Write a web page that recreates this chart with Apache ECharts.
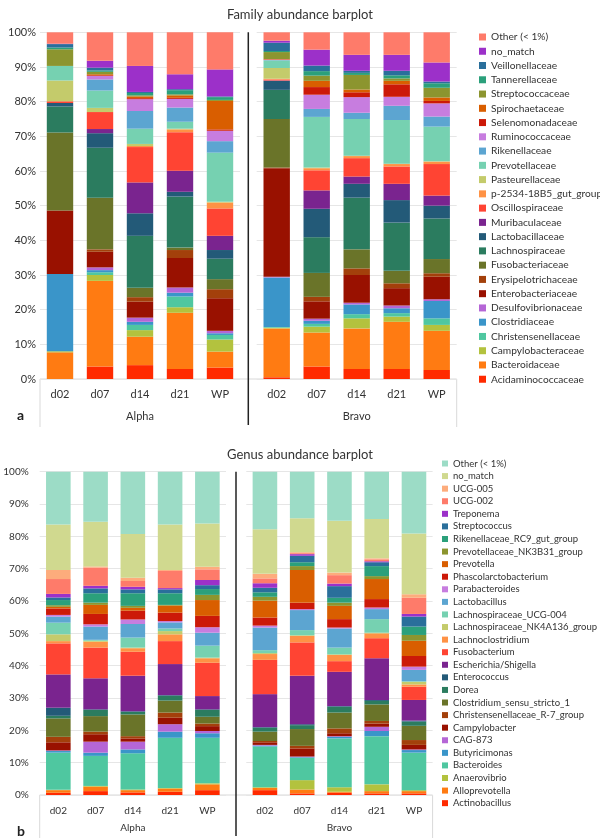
<!DOCTYPE html>
<html>
<head>
<meta charset="utf-8">
<script src="https://cdn.jsdelivr.net/npm/echarts@6/dist/echarts.min.js"></script>
<style>
html, body { margin: 0; padding: 0; background: #fff; }
#chart { width: 600px; height: 838px; }
</style>
</head>
<body>
<div id="chart"></div>
<script>
// sample days and site groups
const samples = ["d02", "d07", "d14", "d21", "WP"];
const groups = ["Alpha", "Bravo"];

// family level, stacked bottom -> top
const familyNames = [
  "Acidaminococcaceae", "Bacteroidaceae", "Campylobacteraceae", "Christensenellaceae",
  "Clostridiaceae", "Desulfovibrionaceae", "Enterobacteriaceae", "Erysipelotrichaceae",
  "Fusobacteriaceae", "Lachnospiraceae", "Lactobacillaceae", "Muribaculaceae",
  "Oscillospiraceae", "p-2534-18B5_gut_group", "Pasteurellaceae", "Prevotellaceae",
  "Rikenellaceae", "Ruminococcaceae", "Selenomonadaceae", "Spirochaetaceae",
  "Streptococcaceae", "Tannerellaceae", "Veillonellaceae", "no_match", "Other (< 1%)"
];
const familyColors = [
  "#ff2a00", "#ff7b12", "#b3c23e", "#4fc7a0", "#3a95c9", "#b566d6", "#991100", "#a3400b",
  "#6a7429", "#2b7c5f", "#235a78", "#7a248f", "#ff4433", "#ff9245", "#c4cb6b", "#76d1b1",
  "#5ca5d1", "#c77ddf", "#cc1908", "#d95e00", "#8c952f", "#2ba07b", "#2a6f9b", "#9c30c9", "#fe7b6a"
];
// rows follow familyNames, columns follow samples (%)
const familyAlpha = [
  [0, 3.6, 4.0, 2.9, 3.3],
  [7.7, 24.7, 8.2, 16.2, 4.6],
  [0.3, 1.7, 1.9, 1.6, 3.5],
  [0, 0.8, 1.5, 3.1, 1.3],
  [22.3, 0.6, 0.9, 1.1, 0.5],
  [0, 0.8, 1.2, 1.5, 0.7],
  [18.3, 4.5, 4.6, 8.5, 9.4],
  [0, 0.7, 1.3, 2.3, 2.6],
  [22.5, 14.9, 2.7, 0.7, 2.9],
  [7.5, 14.4, 15.0, 14.7, 5.9],
  [1.0, 4.2, 6.5, 1.4, 2.5],
  [0, 1.2, 8.9, 6.1, 4.1],
  [0.5, 4.9, 10.2, 11.1, 7.9],
  [0, 0, 0.3, 0.8, 1.7],
  [6.0, 1.2, 0.6, 0.2, 0.2],
  [4.2, 5.0, 4.4, 2.0, 14.2],
  [0, 3.2, 5.1, 4.1, 3.3],
  [0, 1.0, 3.4, 2.5, 3.0],
  [0, 0.2, 0.3, 0.3, 0.4],
  [0, 0.3, 0.5, 0.7, 8.2],
  [4.8, 0.7, 0.3, 0.3, 0.3],
  [0.5, 0.4, 0.7, 1.2, 0.8],
  [1.0, 0.8, 0.3, 0.3, 0.2],
  [0.1, 2.0, 7.5, 4.3, 7.8],
  [3.3, 8.2, 9.7, 12.1, 10.7]
];
const familyBravo = [
  [0.5, 3.6, 2.9, 2.9, 2.6],
  [14.1, 9.8, 11.7, 13.6, 11.3],
  [0.2, 1.7, 2.9, 1.5, 1.7],
  [0.2, 0.8, 1.2, 1.0, 1.9],
  [14.3, 0.9, 2.8, 1.4, 5.0],
  [0.2, 0.6, 0.5, 0.8, 0.5],
  [31.3, 5.0, 8.0, 5.0, 6.5],
  [0.2, 1.3, 1.9, 1.4, 1.0],
  [14.0, 6.9, 5.5, 3.6, 4.1],
  [8.4, 10.3, 14.9, 13.9, 11.7],
  [2.6, 8.2, 4.0, 6.5, 3.7],
  [0.1, 5.3, 2.1, 4.7, 2.9],
  [0.3, 5.8, 5.3, 5.0, 9.1],
  [0.2, 0.6, 0.6, 0.7, 0.7],
  [3.1, 0.2, 0.1, 0.1, 0.1],
  [2.2, 14.6, 10.6, 12.6, 10.0],
  [0.1, 2.3, 1.8, 4.1, 2.9],
  [0.1, 4.1, 4.5, 2.6, 3.8],
  [0.1, 2.2, 1.4, 3.6, 0.7],
  [0.1, 1.8, 0.8, 1.0, 1.0],
  [2.0, 1.5, 4.2, 0.7, 2.8],
  [0.3, 1.3, 0.6, 0.9, 1.3],
  [2.4, 1.6, 0.6, 1.3, 0.5],
  [0.6, 4.6, 4.6, 4.6, 5.5],
  [2.4, 5.0, 6.5, 6.5, 8.7]
];

// genus level, stacked bottom -> top
const genusNames = [
  "Actinobacillus", "Alloprevotella", "Anaerovibrio", "Bacteroides", "Butyricimonas",
  "CAG-873", "Campylobacter", "Christensenellaceae_R-7_group", "Clostridium_sensu_stricto_1",
  "Dorea", "Enterococcus", "Escherichia/Shigella", "Fusobacterium", "Lachnoclostridium",
  "Lachnospiraceae_NK4A136_group", "Lachnospiraceae_UCG-004", "Lactobacillus", "Parabacteroides",
  "Phascolarctobacterium", "Prevotella", "Prevotellaceae_NK3B31_group", "Rikenellaceae_RC9_gut_group",
  "Streptococcus", "Treponema", "UCG-002", "UCG-005", "no_match", "Other (< 1%)"
];
const genusColors = [
  "#ff2a00", "#ff7b12", "#b3c23e", "#4fc7a0", "#3a95c9", "#b566d6", "#991100", "#a3400b",
  "#6a7429", "#2b7c5f", "#235a78", "#7a248f", "#ff4433", "#ff9245", "#c4cb6b", "#76d1b1",
  "#5ca5d1", "#c77ddf", "#cc1908", "#d95e00", "#8c952f", "#2ba07b", "#2a6f9b", "#9c30c9",
  "#fe7b6a", "#fdac7c", "#d0d98f", "#9cdcc6"
];
const genusAlpha = [
  [0.7, 1.2, 0.8, 1.0, 1.5],
  [0.8, 1.4, 0.7, 1.0, 1.8],
  [0.1, 0.2, 0.2, 0.2, 0.3],
  [11.5, 9.3, 11.2, 15.5, 14.1],
  [0.5, 1.0, 1.2, 1.9, 1.4],
  [0.2, 3.4, 2.4, 2.3, 0.7],
  [2.5, 2.3, 1.0, 2.0, 1.5],
  [1.7, 0.8, 0.7, 1.6, 0.8],
  [5.7, 4.8, 6.7, 3.7, 2.1],
  [0.8, 1.9, 0.8, 1.5, 2.1],
  [2.5, 0.2, 0.2, 0.2, 0.2],
  [10.3, 9.6, 11.0, 9.6, 4.1],
  [9.6, 9.5, 7.4, 7.1, 10.3],
  [0.7, 1.8, 1.1, 2.1, 1.4],
  [2.1, 0.3, 0.2, 1.0, 0.2],
  [3.6, 0.3, 3.1, 0.8, 3.7],
  [1.9, 4.1, 4.2, 1.9, 4.0],
  [0.5, 0.7, 1.4, 0.4, 1.7],
  [2.0, 3.2, 2.7, 2.6, 3.5],
  [0.5, 2.8, 0.9, 2.2, 4.9],
  [0.5, 0.7, 0.6, 0.2, 1.6],
  [1.6, 2.9, 3.9, 3.6, 1.8],
  [0.8, 1.5, 1.2, 1.2, 1.2],
  [1.1, 0.8, 0.8, 0.4, 1.6],
  [4.6, 5.6, 1.8, 5.3, 3.3],
  [2.8, 0.4, 1.0, 0.3, 0.8],
  [14.1, 13.8, 13.5, 14.1, 13.4],
  [16.3, 15.5, 19.3, 16.3, 16.0]
];
const genusBravo = [
  [1.5, 0.5, 0.7, 0.5, 0.5],
  [0.7, 1.2, 0.3, 0.7, 0.7],
  [0.2, 2.9, 1.4, 2.1, 0.3],
  [12.6, 6.9, 15.1, 14.9, 11.6],
  [0.3, 0.2, 0.5, 1.6, 0.8],
  [0.2, 0.2, 0.2, 1.3, 0.2],
  [0.8, 2.5, 0.9, 1.0, 1.4],
  [0.4, 0.8, 1.5, 0.8, 1.5],
  [2.9, 5.2, 4.9, 5.1, 4.4],
  [1.2, 1.2, 1.8, 1.1, 1.3],
  [0.2, 0.3, 0.2, 0.3, 0.3],
  [10.2, 15.0, 10.6, 12.9, 6.4],
  [10.6, 10.3, 3.3, 6.2, 4.1],
  [1.8, 2.0, 1.9, 1.5, 0.7],
  [0.3, 0.2, 0.2, 0.2, 0.8],
  [0.9, 1.6, 2.1, 4.2, 0.2],
  [7.0, 6.2, 5.9, 3.1, 3.5],
  [0.6, 0.3, 0.3, 0.5, 1.0],
  [2.5, 2.0, 2.6, 2.6, 3.3],
  [5.2, 10.1, 4.1, 6.2, 4.7],
  [1.2, 1.2, 1.0, 0.9, 1.8],
  [1.4, 1.2, 1.5, 3.1, 2.6],
  [1.4, 2.0, 3.6, 1.2, 3.1],
  [1.4, 0.5, 0.8, 0.3, 0.8],
  [1.5, 0.3, 2.6, 0.6, 5.0],
  [1.4, 0.3, 0.8, 0.3, 1.1],
  [13.8, 10.5, 16.0, 12.2, 18.8],
  [17.8, 14.4, 15.2, 14.6, 19.1]
];

const FONT = "Lato, 'Noto Sans', sans-serif";
const TEXT = "#333";

const panels = [
  {
    title: "Family abundance barplot", tag: "a",
    names: familyNames, colors: familyColors, values: [familyAlpha, familyBravo],
    top: 32.3, bottom: 379, lefts: [40, 256.7], width: 200, sep: 248.3, right: 456.7,
    frameBottom: 427, fs: 11, labelMargin: 10, nameGap: 32, yMargin: 4,
    titleTop: 3, tagTop: 403,
    legend: { left: 474, top: 26, icon: 7, lh: 12, gap: 2.26, fs: 10.2 }
  },
  {
    title: "Genus abundance barplot", tag: "b",
    names: genusNames, colors: genusColors, values: [genusAlpha, genusBravo],
    top: 471.7, bottom: 795, lefts: [39.7, 246.3], width: 186.3, sep: 236, right: 432.6,
    frameBottom: 838, fs: 10, labelMargin: 11, nameGap: 28, yMargin: 11,
    titleTop: 443, tagTop: 819,
    legend: { left: 437, top: 453, icon: 6, lh: 11, gap: 1.58, fs: 9.5 }
  }
];

const grid = [], xAxis = [], yAxis = [], series = [], legend = [], title = [], graphic = [];

panels.forEach((p) => {
  title.push({
    text: p.title, left: "center", top: p.titleTop,
    textStyle: { fontFamily: FONT, fontSize: 13, fontWeight: "normal", color: TEXT }
  });
  title.push({
    text: p.tag, left: 12, top: p.tagTop,
    textStyle: { fontFamily: FONT, fontSize: 14, fontWeight: "bold", color: "#222" }
  });

  groups.forEach((g, gi) => {
    const idx = grid.length;
    grid.push({ left: p.lefts[gi], top: p.top, width: p.width, height: p.bottom - p.top });
    xAxis.push({
      type: "category", gridIndex: idx, data: samples,
      axisLine: { show: false }, axisTick: { show: false },
      axisLabel: { color: TEXT, fontFamily: FONT, fontSize: p.fs, margin: p.labelMargin },
      name: g, nameLocation: "middle", nameGap: p.nameGap,
      nameTextStyle: { color: TEXT, fontFamily: FONT, fontSize: p.fs }
    });
    yAxis.push({
      type: "value", gridIndex: idx, min: 0, max: 100, interval: 10,
      axisLine: { show: false }, axisTick: { show: false },
      axisLabel: {
        show: gi === 0, formatter: "{value}%", color: TEXT,
        fontFamily: FONT, fontSize: p.fs, margin: p.yMargin
      },
      splitLine: { lineStyle: { color: "#e6e6e6", width: 1 } }
    });
    p.names.forEach((name, ni) => {
      series.push({
        type: "bar", name, stack: "s" + idx,
        xAxisIndex: idx, yAxisIndex: idx,
        barCategoryGap: "34%",
        itemStyle: { color: p.colors[ni] },
        emphasis: { disabled: true },
        data: p.values[gi][ni]
      });
    });
  });

  legend.push({
    orient: "vertical", left: p.legend.left, top: p.legend.top,
    icon: "rect", itemWidth: p.legend.icon, itemHeight: p.legend.icon,
    itemGap: p.legend.gap, selectedMode: false,
    textStyle: { fontFamily: FONT, fontSize: p.legend.fs, lineHeight: p.legend.lh, color: TEXT },
    data: p.names.map((n, i) => ({ name: n, itemStyle: { color: p.colors[i] } })).reverse()
  });

  // category axis frame and the black divider between the two sites
  const frame = { stroke: "#d9d9d9", lineWidth: 1 };
  graphic.push(
    { type: "line", shape: { x1: p.lefts[0], y1: p.bottom, x2: p.right, y2: p.bottom }, style: frame, silent: true },
    { type: "line", shape: { x1: p.lefts[0], y1: p.bottom, x2: p.lefts[0], y2: p.frameBottom }, style: frame, silent: true },
    { type: "line", shape: { x1: p.right, y1: p.bottom, x2: p.right, y2: p.frameBottom }, style: frame, silent: true },
    { type: "line", shape: { x1: p.sep, y1: p.top, x2: p.sep, y2: p.frameBottom - 2 },
      style: { stroke: "#222", lineWidth: 1.5 }, silent: true }
  );
});

const chart = echarts.init(document.getElementById("chart"), null, { renderer: "canvas" });
chart.setOption({
  animation: false,
  backgroundColor: "#fff",
  title, grid, xAxis, yAxis, legend, series, graphic
});
</script>
</body>
</html>
